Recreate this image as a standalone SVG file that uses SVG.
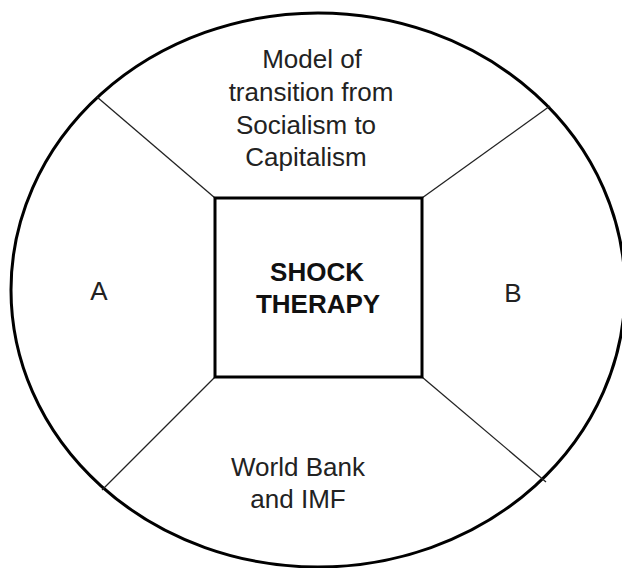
<svg xmlns="http://www.w3.org/2000/svg" width="622" height="568" viewBox="0 0 622 568">
<style>
.outline{fill:none;stroke:#000;stroke-width:3}
.conn{stroke:#222;stroke-width:1.3;fill:none}
.t{font-family:"Liberation Sans",Arial,sans-serif;font-size:26px;fill:#222;text-anchor:middle}
.b{font-weight:bold;fill:#111}
</style>
<rect width="622" height="568" fill="#fff"/>
<g id="outer-circle"><ellipse class="outline" cx="318" cy="290" rx="307" ry="277"/></g>
<g id="connectors">
<line class="conn" x1="215" y1="198" x2="97" y2="97"/>
<line class="conn" x1="422" y1="198" x2="550" y2="106"/>
<line class="conn" x1="215" y1="377" x2="102" y2="490"/>
<line class="conn" x1="422" y1="377" x2="546" y2="482"/>
</g>
<g id="top"><text class="t"><tspan x="312" y="68">Model of</tspan><tspan x="311" y="101">transition from</tspan><tspan x="306" y="134">Socialism to</tspan><tspan x="306" y="166">Capitalism</tspan></text></g>
<g id="center"><rect class="outline" x="215" y="198" width="207" height="179"/><text class="t b"><tspan x="317" y="281">SHOCK</tspan><tspan x="318" y="313">THERAPY</tspan></text></g>
<g id="left"><text class="t" x="99" y="300">A</text></g>
<g id="right"><text class="t" x="513" y="302">B</text></g>
<g id="bottom"><text class="t"><tspan x="298" y="476">World Bank</tspan><tspan x="298" y="508">and IMF</tspan></text></g>
</svg>
